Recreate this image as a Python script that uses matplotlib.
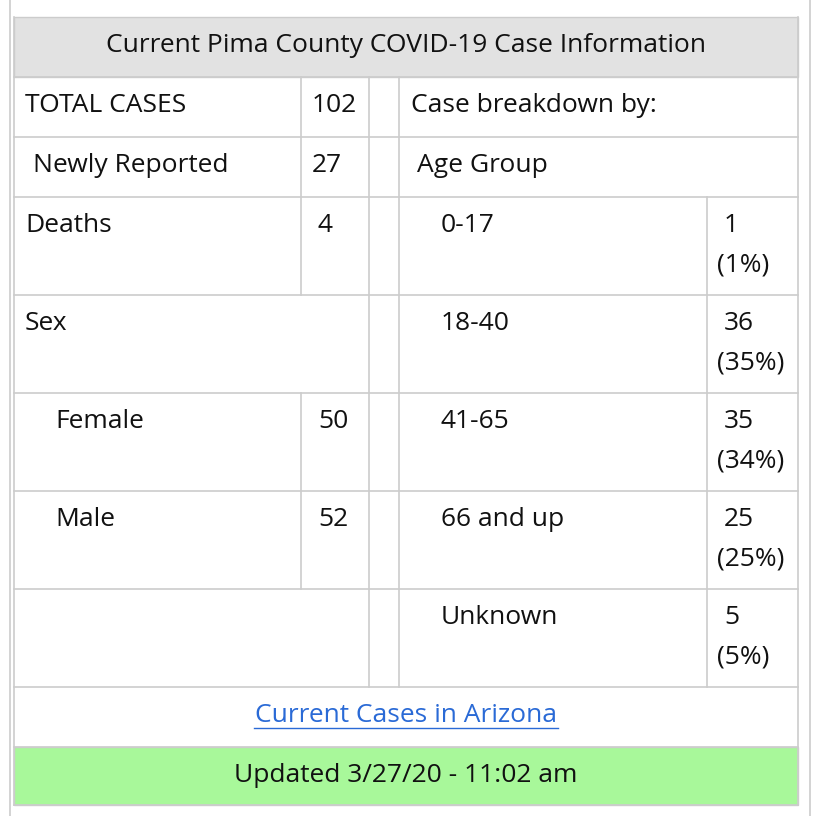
import matplotlib
matplotlib.use("Agg")
import matplotlib.pyplot as plt
from matplotlib.patches import Rectangle

# ---- Data ----
TITLE = "Current Pima County COVID-19 Case Information"
TOTAL_CASES = 102
NEWLY_REPORTED = 27
DEATHS = 4
SEX_LABELS = ["Female", "Male"]
SEX_VALUES = [50, 52]
AGE_LABELS = ["0-17", "18-40", "41-65", "66 and up", "Unknown"]
AGE_VALUES = [1, 36, 35, 25, 5]
AGE_PCTS = ["1%", "35%", "34%", "25%", "5%"]
LINK_TEXT = "Current Cases in Arizona"
UPDATED = "Updated 3/27/20 - 11:02 am"

# ---- Layout (pixels) ----
W, H = 824, 816
L, R = 14, 798
C1, C2, C3, C4 = 301, 369, 399, 707
ROWS = [17, 77, 137, 197, 295, 393, 491, 589, 687, 747, 805]
LINE = "#cccccc"
FONT = "Open Sans"
FS = 19

fig = plt.figure(figsize=(W / 100, H / 100), dpi=100)
ax = fig.add_axes([0, 0, 1, 1])
ax.set_xlim(0, W)
ax.set_ylim(H, 0)
ax.axis("off")


def hline(y, x0=L, x1=R):
    ax.plot([x0, x1], [y, y], color=LINE, lw=1.2)


def vline(x, y0, y1):
    ax.plot([x, x], [y0, y1], color=LINE, lw=1.2)


def txt(x, y, s, **kw):
    kw.setdefault("fontsize", FS)
    ax.text(x, y, s, family=FONT, va="center", color="#111111", **kw)


# outer frame
vline(10, 0, H)
vline(810, 0, H)

# header + footer backgrounds
ax.add_patch(Rectangle((L, ROWS[0]), R - L, ROWS[1] - ROWS[0], facecolor="#e2e2e2", edgecolor=LINE))
ax.add_patch(Rectangle((L, ROWS[9]), R - L, ROWS[10] - ROWS[9], facecolor="#a8f89a", edgecolor=LINE))
txt((L + R) / 2, 46, TITLE, ha="center")
txt((L + R) / 2, 775, UPDATED, ha="center")

for y in ROWS[1:10]:
    hline(y)
hline(ROWS[10])
vline(L, ROWS[0], ROWS[10])
vline(R, ROWS[0], ROWS[10])
vline(C2, ROWS[1], ROWS[8])
vline(C3, ROWS[1], ROWS[8])
vline(C1, ROWS[1], ROWS[4])
vline(C1, ROWS[5], ROWS[7])
vline(C4, ROWS[3], ROWS[8])

# left side
txt(25, 106, "TOTAL CASES")
txt(312, 106, str(TOTAL_CASES))
txt(33, 166, "Newly Reported")
txt(312, 166, str(NEWLY_REPORTED))
txt(25, 226, "Deaths")
txt(318, 226, str(DEATHS))
txt(25, 324, "Sex")
for i, (lab, val) in enumerate(zip(SEX_LABELS, SEX_VALUES)):
    y = ROWS[5 + i] + 29
    txt(55, y, lab)
    txt(318, y, str(val))

# right side
txt(411, 106, "Case breakdown by:")
txt(417, 166, "Age Group")
for i, (lab, val, pct) in enumerate(zip(AGE_LABELS, AGE_VALUES, AGE_PCTS)):
    y = ROWS[3 + i] + 29
    txt(441, y, lab)
    txt(724, y, str(val))
    txt(717, y + 39, f"({pct})")

ax.text((L + R) / 2, 716, LINK_TEXT, family=FONT, fontsize=FS, ha="center", va="center",
        color="#2a6ad6")
ax.plot([254, 558], [728, 728], color="#2a6ad6", lw=1)

fig.savefig("out.png", dpi=100)
